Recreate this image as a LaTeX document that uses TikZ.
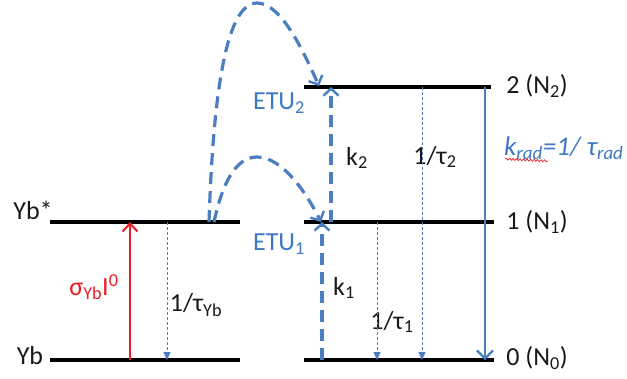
\documentclass[tikz,border=0pt]{standalone}
\usepackage{fontspec}
\setmainfont{Carlito}
\usetikzlibrary{arrows.meta,decorations.pathmorphing}
\definecolor{eblue}{RGB}{74,126,190}
\definecolor{lblue}{RGB}{60,120,195}
\definecolor{ered}{RGB}{235,30,35}
\begin{document}
\begin{tikzpicture}[x=1pt,y=-1pt,
  lvl/.style={line width=3.2pt,black},
  lbl/.style={font=\fontsize{26}{30}\selectfont,inner sep=0pt,text=black!90},
  blbl/.style={lbl,text=lblue},
  thickdash/.style={eblue,line width=3.2pt,dash pattern=on 12pt off 7pt,-{Straight Barb[length=7pt,width=15pt,line width=2.4pt]}},
  thindash/.style={eblue,line width=1pt,dash pattern=on 3pt off 2pt,-{Triangle[length=8pt,width=7pt]}},
  solidarr/.style={eblue,line width=2.8pt,-{Straight Barb[length=8pt,width=16pt,line width=2.2pt]}},
  redarr/.style={ered,line width=2.6pt,-{Straight Barb[length=8pt,width=15pt,line width=2pt]}}]
\useasboundingbox (0,0) rectangle (627,378);
% levels
\coordinate (ybsL) at (50,222); \coordinate (ybsR) at (240,222);
\coordinate (ybL) at (50,360);  \coordinate (ybR) at (240,360);
\coordinate (l2L) at (304,87);  \coordinate (l2R) at (491,87);
\coordinate (l1L) at (304,222); \coordinate (l1R) at (494,222);
\coordinate (l0L) at (304,360); \coordinate (l0R) at (494,360);
\draw[lvl] (ybsL) -- (ybsR);
\draw[lvl] (ybL) -- (ybR);
\draw[lvl] (l2L) -- (l2R);
\draw[lvl] (l1L) -- (l1R);
\draw[lvl] (l0L) -- (l0R);
% labels
\node[lbl] (tybs) at (33,210) {Yb*};
\node[lbl] (tyb) at (30,356) {Yb};
\node[lbl] (t2) at (537,86) {2 (N\textsubscript{2})};
\node[lbl] (t1) at (537,222) {1 (N\textsubscript{1})};
\node[lbl] (t0) at (537,358) {0 (N\textsubscript{0})};
\node[lbl,text=ered] (tsig) at (94,287) {σ\textsubscript{Yb}I\textsuperscript{0}};
\node[lbl] (ttyb) at (196,305) {1/τ\textsubscript{Yb}};
\node[blbl] (tetu2) at (279,103) {ETU\textsubscript{2}};
\node[blbl] (tetu1) at (279,244) {ETU\textsubscript{1}};
\node[lbl] (tk2) at (357,158) {k\textsubscript{2}};
\node[lbl] (tk1) at (344,288) {k\textsubscript{1}};
\node[lbl] (tt1) at (392,322) {1/τ\textsubscript{1}};
\node[lbl] (tt2) at (435,157) {1/τ\textsubscript{2}};
\node[blbl,anchor=west,font=\fontsize{27}{30}\selectfont] (tkrad) at (504,148) {\textit{k\textsubscript{rad}=1/ τ\textsubscript{rad}}};
\draw[ered,line width=0.7pt,decorate,decoration={snake,amplitude=1pt,segment length=3.5pt}] (505,159) -- (548,161);
% Yb transitions
\coordinate (rA) at (130,360); \coordinate (rB) at (130,222);
\draw[redarr] (rA) -- (rB);
\coordinate (dA) at (167,222); \coordinate (dB) at (167,360);
\draw[thindash] (dA) -- (dB);
% ETU arcs
\coordinate (e2s) at (209,222); \coordinate (e2e) at (319,86);
\draw[thickdash] (e2s) .. controls (213,100) and (225,3) .. (257,3) .. controls (282,3) and (305,55) .. (e2e);
\coordinate (e1s) at (214,222); \coordinate (e1e) at (321,222);
\draw[thickdash] (e1s) .. controls (222,185) and (235,157) .. (257,157) .. controls (282,157) and (306,192) .. (e1e);
% k arrows
\coordinate (k1s) at (322,360); \coordinate (k1e) at (322,222);
\draw[thickdash] (k1s) -- (k1e);
\coordinate (k2s) at (331,222); \coordinate (k2e) at (331,87);
\draw[thickdash] (k2s) -- (k2e);
% relaxations
\coordinate (r1s) at (377,222); \coordinate (r1e) at (377,360);
\draw[thindash] (r1s) -- (r1e);
\coordinate (r2s) at (422,87); \coordinate (r2e) at (422,360);
\draw[thindash] (r2s) -- (r2e);
\coordinate (kr1) at (485,87); \coordinate (kr2) at (485,360);
\draw[solidarr] (kr1) -- (kr2);
\end{tikzpicture}
\end{document}
